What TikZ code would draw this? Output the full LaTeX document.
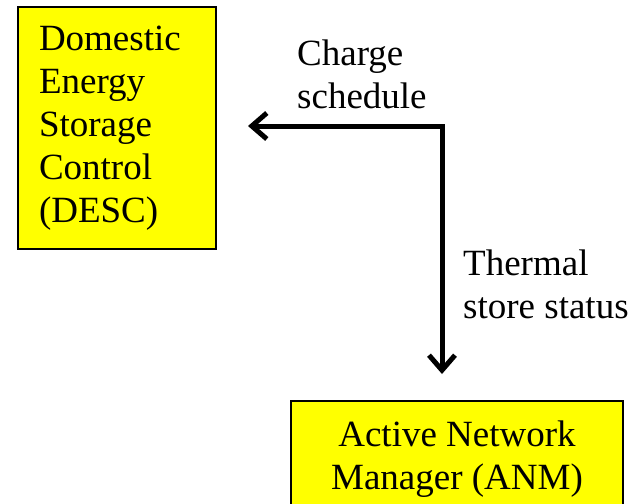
\documentclass[tikz,border=0pt]{standalone}
\usepackage{fontspec}
\setmainfont{Liberation Serif}
\newfontfamily\timesfont{Liberation Serif}
\definecolor{boxyellow}{HTML}{FFFF00}
\definecolor{ink}{HTML}{000000}
\usetikzlibrary{arrows.meta,positioning,calc}

\begin{document}
\begin{tikzpicture}[
  x=1pt, y=-1pt,
  unit/.style={rectangle, draw=ink, line width=2pt, fill=boxyellow, inner sep=0pt, font=\timesfont\fontsize{37}{43}\selectfont},
  lbl/.style={anchor=north west, inner sep=0pt, align=left, font=\timesfont\fontsize{37}{43}\selectfont},
  flow/.style={draw=ink, line width=5pt, {Straight Barb[length=15pt, width=26pt]}-{Straight Barb[length=15pt, width=26pt]}},
]
\useasboundingbox (0,0) rectangle (633,504);
\node[unit, minimum width=198pt, minimum height=242pt, text width=156pt, align=left] (desc) at (117,128) {Domestic\\Energy\\Storage\\Control\\(DESC)};
\node[unit, minimum width=332pt, minimum height=117pt, align=center] (anm) at (457,459.5) {Active Network\\Manager (ANM)};
\coordinate (bend) at (442,126);
\draw[flow, shorten <=31pt, shorten >=26pt] (bend -| desc.east) -- (bend) -- (bend |- anm.north);
\node[lbl] (charge) at (297,40) {Charge\\schedule};
\node[lbl] (thermal) at (463,250) {Thermal\\store status};
\end{tikzpicture}
\end{document}
